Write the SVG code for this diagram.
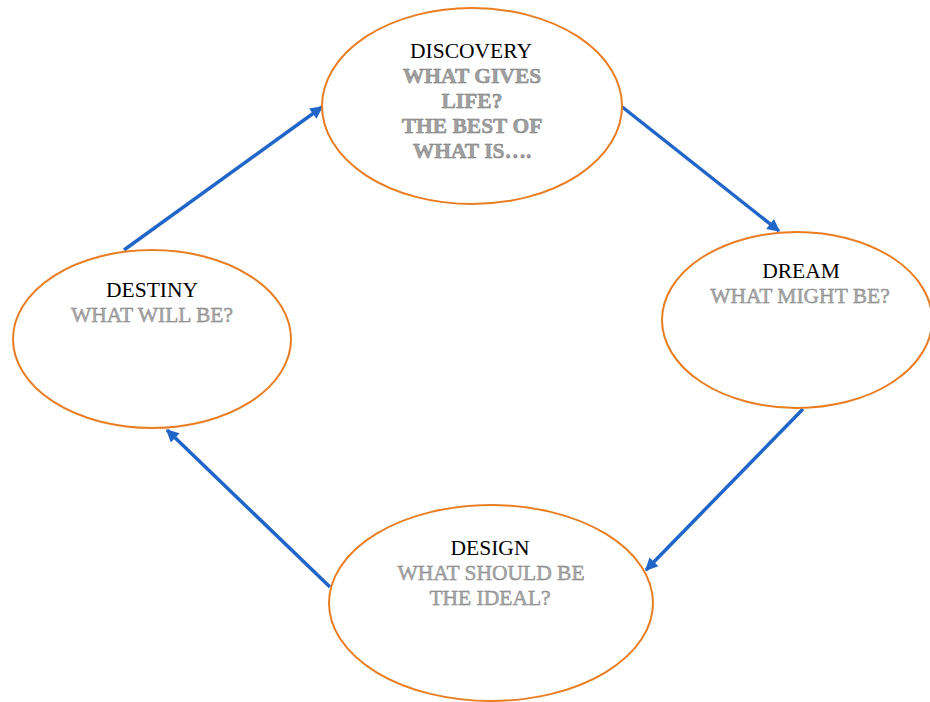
<svg xmlns="http://www.w3.org/2000/svg" width="930" height="702" viewBox="0 0 930 702">
  <defs>
    <marker id="arrowhead" viewBox="0 0 10 10" refX="9" refY="5" markerWidth="4" markerHeight="3.6" markerUnits="strokeWidth" orient="auto">
      <path d="M0,0 L10,5 L0,10 z" fill="#2066c9"/>
    </marker>
    <style>
      .node { fill: #ffffff; stroke: #e87d22; stroke-width: 2; }
      .edge { stroke: #2066c9; stroke-width: 3.5; fill: none; marker-end: url(#arrowhead); }
      text { font-family: "Liberation Serif", "Times New Roman", serif; font-size: 21.5px; text-anchor: middle; }
      .title { fill: #000000; }
      .sub { fill: #a8a8a8; stroke: #7a7a7a; stroke-width: 0.4; }
      .subb { fill: #a0a0a0; stroke: #727272; stroke-width: 0.4; font-weight: bold; }
    </style>
  </defs>
  <rect width="930" height="702" fill="#ffffff"/>

  <g id="connectors">
    <line class="edge" x1="124" y1="250" x2="322" y2="107"/>
    <line class="edge" x1="621" y1="106" x2="779" y2="231"/>
    <line class="edge" x1="803" y1="409" x2="646" y2="570"/>
    <line class="edge" x1="330" y1="587" x2="167" y2="430"/>
  </g>

  <g id="discovery">
    <ellipse class="node" cx="472" cy="106" rx="150" ry="98"/>
    <text class="title" x="471" y="58">DISCOVERY</text>
    <text class="subb" x="472" y="83">WHAT GIVES</text>
    <text class="subb" x="472" y="108">LIFE?</text>
    <text class="subb" x="472" y="133">THE BEST OF</text>
    <text class="subb" x="472" y="158">WHAT IS….</text>
  </g>

  <g id="dream">
    <ellipse class="node" cx="797" cy="320" rx="135" ry="88"/>
    <text class="title" x="801" y="278">DREAM</text>
    <text class="sub" x="800" y="303">WHAT MIGHT BE?</text>
  </g>

  <g id="design">
    <ellipse class="node" cx="491" cy="603" rx="162" ry="98"/>
    <text class="title" x="490" y="555">DESIGN</text>
    <text class="sub" x="491" y="580">WHAT SHOULD BE</text>
    <text class="sub" x="490" y="605">THE IDEAL?</text>
  </g>

  <g id="destiny">
    <ellipse class="node" cx="152" cy="339" rx="139" ry="89"/>
    <text class="title" x="152" y="297">DESTINY</text>
    <text class="sub" x="152" y="322">WHAT WILL BE?</text>
  </g>
</svg>
